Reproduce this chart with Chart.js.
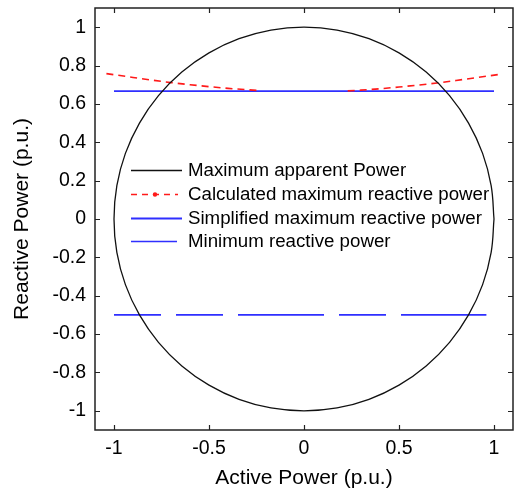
<!DOCTYPE html>
<html>
<head>
<meta charset="utf-8">
<script src="https://cdn.jsdelivr.net/npm/chart.js@4/dist/chart.umd.min.js"></script>
<style>
html,body{margin:0;padding:0;background:#fff;}
#wrap{width:517px;height:492px;}
</style>
</head>
<body>
<div id="wrap"><canvas id="c" width="517" height="492"></canvas></div>
<script>
// ---- data ----
const xTickValues = [-1, -0.5, 0, 0.5, 1];
const yTickValues = [-1, -0.8, -0.6, -0.4, -0.2, 0, 0.2, 0.4, 0.6, 0.8, 1];

// Maximum apparent Power (unit circle traced point by point)
const circleP = [1, 0.985, 0.940, 0.866, 0.766, 0.643, 0.5, 0.342, 0.174, 0,
  -0.174, -0.342, -0.5, -0.643, -0.766, -0.866, -0.940, -0.985, -1,
  -0.985, -0.940, -0.866, -0.766, -0.643, -0.5, -0.342, -0.174, 0,
  0.174, 0.342, 0.5, 0.643, 0.766, 0.866, 0.940, 0.985, 1];
const circleQ = [0, 0.174, 0.342, 0.5, 0.643, 0.766, 0.866, 0.940, 0.985, 1,
  0.985, 0.940, 0.866, 0.766, 0.643, 0.5, 0.342, 0.174, 0,
  -0.174, -0.342, -0.5, -0.643, -0.766, -0.866, -0.940, -0.985, -1,
  -0.985, -0.940, -0.866, -0.766, -0.643, -0.5, -0.342, -0.174, 0];

// Calculated maximum reactive power (two branches, gap in the middle)
const calcP = [-1.04, -0.9, -0.8, -0.7, -0.6, -0.5, -0.4, -0.3, -0.24, 0,
  0.23, 0.3, 0.4, 0.5, 0.6, 0.7, 0.8, 0.9, 1.03];
const calcQ = [0.758, 0.738, 0.724, 0.711, 0.700, 0.690, 0.681, 0.674, 0.670, null,
  0.668, 0.672, 0.679, 0.688, 0.698, 0.709, 0.722, 0.736, 0.754];

// Simplified maximum reactive power
const simpP = [-1, 1];
const simpQ = [0.667, 0.667];

// Minimum reactive power
const minP = [-1, 0.96];
const minQ = [-0.5, -0.5];

const seriesNames = ['Maximum apparent Power', 'Calculated maximum reactive power',
  'Simplified maximum reactive power', 'Minimum reactive power'];

const pts = (xs, ys) => xs.map((x, i) => ({x: x, y: ys[i]}));

const FONT = "'Liberation Sans', Arial, sans-serif";

const framePlugin = {
  id: 'frame',
  afterDraw(chart) {
    const {ctx, chartArea: a, scales: {x, y}} = chart;
    ctx.save();
    ctx.strokeStyle = '#222';
    ctx.lineWidth = 1.5;
    ctx.strokeRect(a.left, a.top, a.right - a.left, a.bottom - a.top);
    ctx.lineWidth = 1.2;
    const L = 5;
    ctx.beginPath();
    xTickValues.forEach(v => {
      const px = Math.round(x.getPixelForValue(v)) + 0.5;
      ctx.moveTo(px, a.bottom); ctx.lineTo(px, a.bottom - L);
      ctx.moveTo(px, a.top); ctx.lineTo(px, a.top + L);
    });
    yTickValues.forEach(v => {
      const py = Math.round(y.getPixelForValue(v)) + 0.5;
      ctx.moveTo(a.left, py); ctx.lineTo(a.left + L, py);
      ctx.moveTo(a.right, py); ctx.lineTo(a.right - L, py);
    });
    ctx.stroke();

    // legend
    const x0 = 131, rows = [170, 194, 218, 241];
    ctx.font = '18.7px ' + FONT;
    ctx.textBaseline = 'middle';
    ctx.fillStyle = '#000';
    const ds = chart.data.datasets;
    rows.forEach((ry, i) => {
      const d = ds[i];
      const len = i === 1 ? 47 : (i === 3 ? 46 : 51);
      ctx.beginPath();
      ctx.strokeStyle = d.borderColor;
      ctx.lineWidth = d.borderWidth;
      ctx.setLineDash(i === 1 ? [6, 5] : []);
      ctx.moveTo(x0, ry + 0.5); ctx.lineTo(x0 + len, ry + 0.5);
      ctx.stroke();
      ctx.setLineDash([]);
      if (i === 1) {
        ctx.beginPath();
        ctx.fillStyle = d.borderColor;
        ctx.arc(x0 + 24, ry + 0.5, 2.2, 0, Math.PI * 2);
        ctx.fill();
      }
      ctx.fillStyle = '#000';
      ctx.fillText(seriesNames[i], 188, ry + 1);
    });
    ctx.restore();
  }
};

new Chart(document.getElementById('c'), {
  type: 'scatter',
  data: {
    datasets: [
      {label: seriesNames[0], data: pts(circleP, circleQ), showLine: true, borderColor: '#111',
        borderWidth: 1.3, pointRadius: 0, tension: 0.4, fill: false},
      {label: seriesNames[1], data: pts(calcP, calcQ), showLine: true, borderColor: '#ff1a1a',
        borderWidth: 1.6, borderDash: [7, 5], pointRadius: 0, spanGaps: false, fill: false},
      {label: seriesNames[2], data: pts(simpP, simpQ), showLine: true, borderColor: '#2f2fff',
        borderWidth: 1.8, pointRadius: 0, fill: false},
      {label: seriesNames[3], data: pts(minP, minQ), showLine: true, borderColor: '#2f2fff',
        borderWidth: 1.6, borderDash: [47, 15, 47, 15, 86, 15, 47, 15, 88], pointRadius: 0, fill: false}
    ]
  },
  options: {
    responsive: false,
    animation: false,
    devicePixelRatio: 1,
    layout: {padding: {top: 8, right: 4, left: 0, bottom: 0}},
    plugins: {legend: {display: false}, tooltip: {enabled: false}},
    scales: {
      x: {
        type: 'linear', min: -1.1, max: 1.1,
        afterBuildTicks: s => { s.ticks = xTickValues.map(v => ({value: v})); },
        afterFit: s => { s.height = 62; s.paddingLeft = 0; s.paddingRight = 0; },
        grid: {display: false, drawTicks: false},
        border: {display: false},
        ticks: {padding: 7, color: '#000', font: {family: FONT, size: 19.5}, callback: v => String(v), maxRotation: 0},
        title: {display: true, text: 'Active Power (p.u.)', color: '#000', font: {family: FONT, size: 21}, padding: {top: 0, bottom: 1}}
      },
      y: {
        type: 'linear', min: -1.1, max: 1.1,
        afterBuildTicks: s => { s.ticks = yTickValues.map(v => ({value: v})); },
        afterFit: s => { s.width = 95; s.paddingTop = 0; s.paddingBottom = 0; },
        grid: {display: false, drawTicks: false},
        border: {display: false},
        ticks: {padding: 9, color: '#000', font: {family: FONT, size: 19.5}, callback: v => String(v)},
        title: {display: true, text: 'Reactive Power (p.u.)', color: '#000', font: {family: FONT, size: 21}, padding: {top: 10, bottom: 0}}
      }
    }
  },
  plugins: [framePlugin]
});
</script>
</body>
</html>
